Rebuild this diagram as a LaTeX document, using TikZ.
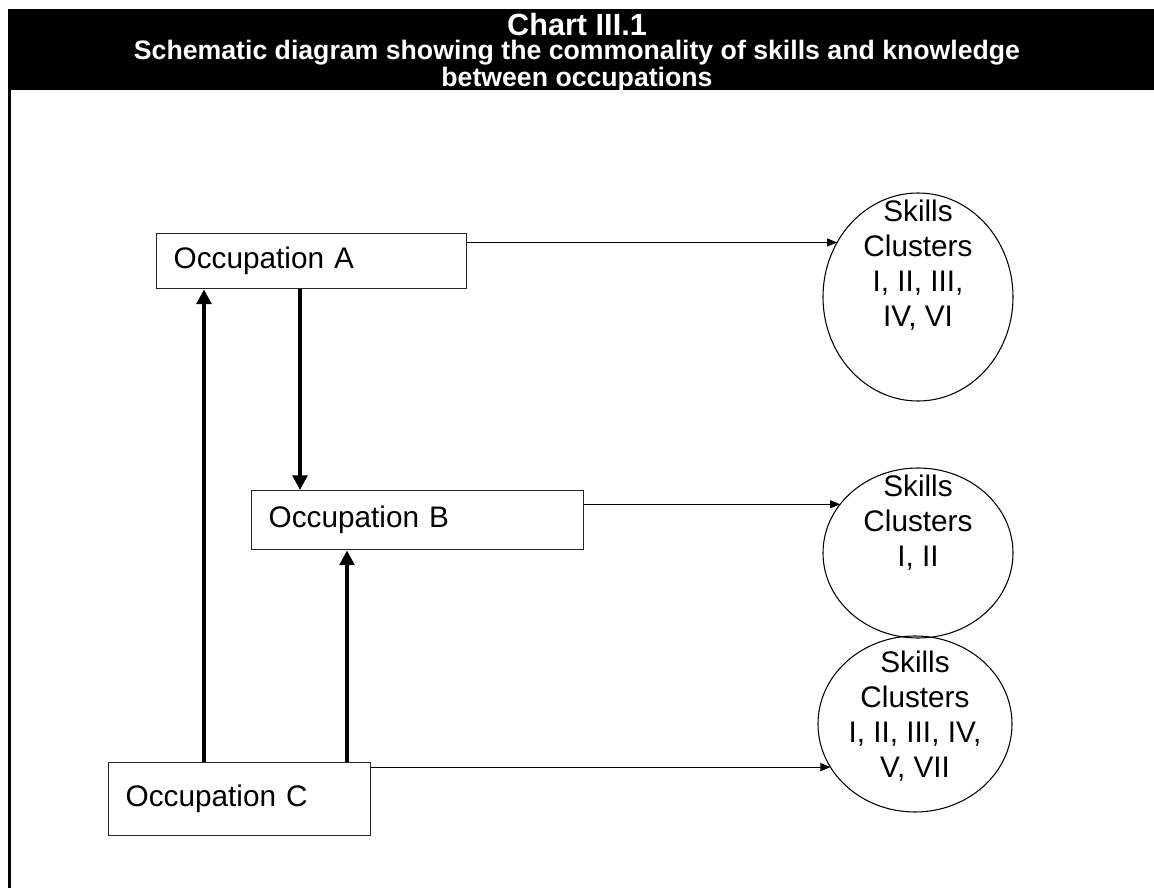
\documentclass[tikz,border=0pt]{standalone}
\usepackage{fontspec}
\setmainfont{Liberation Sans}
\usetikzlibrary{arrows.meta,shapes.geometric}

\begin{document}
\begin{tikzpicture}[x=0.75pt,y=-0.75pt,
  every node/.style={font=\fontsize{22.3pt}{26.25pt}\selectfont},
  occbox/.style={draw=black!85, line width=1.1pt, rectangle, inner xsep=12.75pt,
    inner ysep=0pt, text width=#1, align=left, minimum height=41.25pt, anchor=north west},
  skills/.style={ellipse, draw=black, line width=0.8pt, inner sep=0pt, outer sep=0pt},
  skilltext/.style={align=center, inner sep=0pt},
  link/.style={draw=black, line width=0.75pt, -{Triangle[length=7.5pt,width=6pt]}},
  bond/.style={draw=black, line width=3pt, -{Triangle[length=11pt,width=11pt]}},
  titlefont/.style={font=\fontsize{23pt}{27pt}\selectfont\bfseries},
  subfont/.style={font=\fontsize{20pt}{17.25pt}\selectfont\bfseries}
]
\useasboundingbox (0,0) rectangle (1154,888);

% heading bar and left frame
\fill[black] (8,9) rectangle (1154,90);
\fill[black] (8,90) rectangle (10.5,888);
\node[titlefont, text=white, inner sep=0pt] (title) at (577,24.5) {Chart III.1};
\node[subfont, text=white, inner sep=0pt, align=center] (subtitle) at (577,66)
  {Schematic diagram showing the commonality of skills and knowledge\\between occupations};

% occupations
\node[occbox=207pt] (A) at (156,233) {Occupation A};
\node[occbox=223.5pt, minimum height=44.25pt] (B) at (251,490) {Occupation B};
\node[occbox=171pt, minimum height=54.75pt] (C) at (108,762) {Occupation C};

% skills clusters
\node[skills, minimum width=142.5pt, minimum height=156pt] (E1) at (918,297) {};
\node[skilltext] (T1) at (918,265) {Skills\\Clusters\\I, II, III,\\IV, VI};
\node[skills, minimum width=142.5pt, minimum height=127.5pt] (E2) at (918,553) {};
\node[skilltext] (T2) at (918,523) {Skills\\Clusters\\I, II};
\node[skills, minimum width=145.5pt, minimum height=132pt] (E3) at (915,724) {};
\node[skilltext] (T3) at (915,716) {Skills\\Clusters\\I, II, III, IV,\\V, VII};

% occupation to cluster links
\draw[link] (A.east |- E1.146.4) -- (E1.146.4);
\draw[link] (B.east |- E2.148.5) -- (E2.148.5);
\draw[link] (C.east |- E3.207.6) -- (E3.207.6);

% commonality between occupations
\draw[bond] (C.north -| 204,0) -- (A.south -| 204,0);
\draw[bond] (A.south -| 300,0) -- (B.north -| 300,0);
\draw[bond] (C.north -| 347,0) -- (B.south -| 347,0);
\end{tikzpicture}
\end{document}
